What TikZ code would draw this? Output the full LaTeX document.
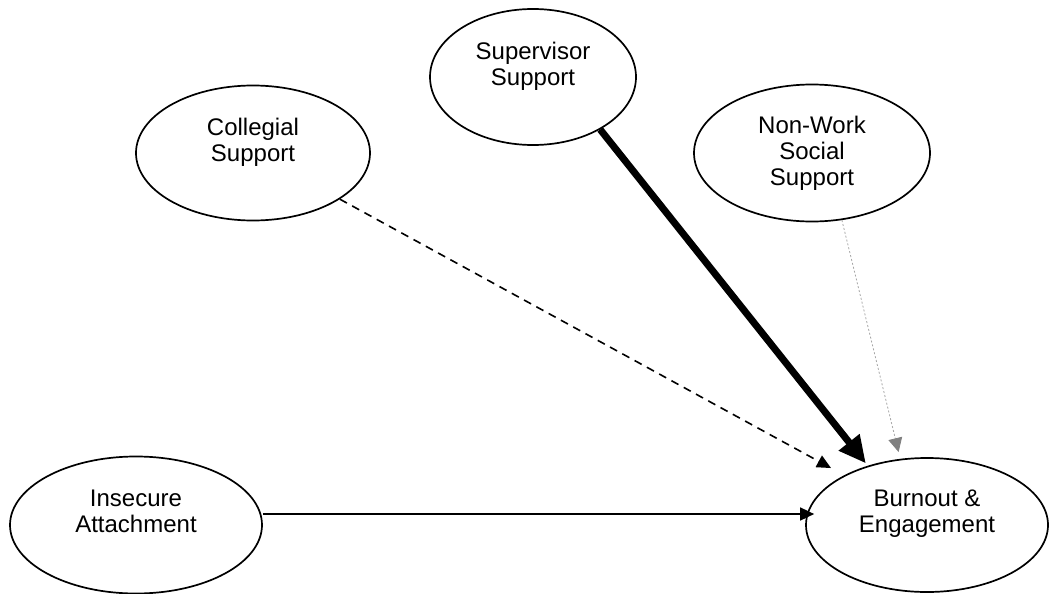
\documentclass[tikz,border=0pt]{standalone}
\usepackage{fontspec}
\setmainfont{Liberation Sans}
\usetikzlibrary{shapes.geometric, positioning, arrows.meta}
\tikzset{
    factor/.style = {draw, ellipse, line width=1.7pt, inner sep=2pt, align=center,
        font=\fontsize{24}{26}\selectfont},
    raised/.style = {text depth=27pt},
}
\tikzset{
    effect/.style = {draw, line width=1.6pt, -{Triangle[length=14pt, width=13pt]}},
    strong/.style = {effect, line width=7pt, -{Triangle[length=27pt, width=25pt]}},
    weak/.style = {effect, dash pattern=on 8pt off 6pt},
    faint/.style = {effect, gray!70, line width=0.8pt, dash pattern=on 2pt off 2pt,
        -{Triangle[length=14pt, width=14pt, fill=gray, color=gray]}},
}

\begin{document}
\begin{tikzpicture}[x=1pt, y=-1pt, every node/.style=on grid]
    \useasboundingbox (0,0) rectangle (1049,594);
    \node[factor, raised, minimum width=242pt, minimum height=134pt] (burn) at (927,525) {Burnout \&\\Engagement};
    \node[factor, raised, minimum width=252pt, minimum height=137pt] (ins) [left=791pt of burn] {Insecure\\Attachment};
    \node[factor, raised, minimum width=234pt, minimum height=135pt] (col) [above left=372pt and 674pt of burn] {Collegial\\Support};
    \node[factor, raised, minimum width=206pt, minimum height=136pt] (sup) [above left=448pt and 394pt of burn] {Supervisor\\Support};
    \node[factor, minimum width=236pt, minimum height=137pt] (non) [above left=372pt and 115pt of burn] {Non-Work\\Social\\Support};

    \draw[effect] ([yshift=11pt]ins.east) -- ([xshift=9pt, yshift=11pt]burn.west);
    \draw[weak, shorten >=15pt] (col.-28) -- (burn.149);
    \draw[strong, shorten >=3pt] (sup.-38) -- (burn.135.5);
    \draw[faint, shorten >=7pt] (non.-66) -- (burn.112);
\end{tikzpicture}
\end{document}
